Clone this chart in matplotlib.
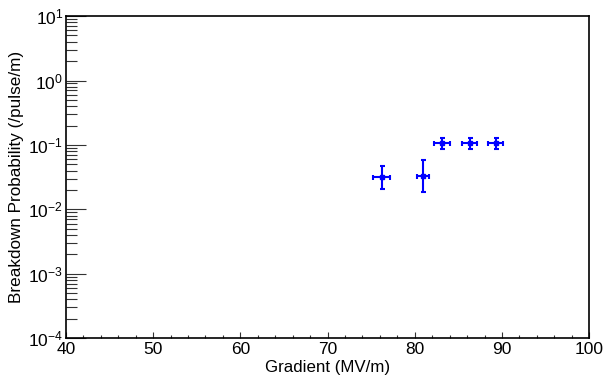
import numpy as np
import matplotlib.pyplot as plt
from matplotlib.ticker import LogLocator, MultipleLocator, FixedLocator, NullFormatter

plt.rcParams['font.family'] = ['Liberation Sans', 'DejaVu Sans']
plt.rcParams['mathtext.fontset'] = 'custom'
plt.rcParams['mathtext.rm'] = 'Liberation Sans'
plt.rcParams['mathtext.it'] = 'Liberation Sans'

# data
gradient = [76.2, 80.95, 83.1, 86.3, 89.25]
gradient_err = [1.0, 0.7, 0.9, 0.85, 0.9]
bdr = [0.0313, 0.0328, 0.107, 0.107, 0.107]
bdr_lo = [0.0206, 0.0183, 0.088, 0.088, 0.088]
bdr_hi = [0.0474, 0.0587, 0.129, 0.129, 0.129]

x_ticks = [40, 50, 60, 70, 80, 90, 100]
y_ticks = [1e-4, 1e-3, 1e-2, 1e-1, 1e0, 1e1]
y_labels = [r'$10^{-4}$', r'$10^{-3}$', r'$10^{-2}$', r'$10^{-1}$', r'$10^{0}$', r'$10^{1}$']

bdr = np.array(bdr)
yerr = [bdr - np.array(bdr_lo), np.array(bdr_hi) - bdr]

fig = plt.figure(figsize=(6.05, 3.83), dpi=100)
ax = fig.add_axes([0.109, 0.117, 0.865, 0.841])

ax.errorbar(gradient, bdr, xerr=gradient_err, yerr=yerr, fmt='s', color='#0000ff',
            markersize=3.5, elinewidth=1.5, capsize=1.8, capthick=1.5)

ax.set_yscale('log')
ax.set_xlim(40, 100)
ax.set_ylim(1e-4, 1e1)

ax.xaxis.set_major_locator(FixedLocator(x_ticks))
ax.set_xticklabels([str(t) for t in x_ticks])
ax.xaxis.set_minor_locator(MultipleLocator(2))
ax.yaxis.set_major_locator(FixedLocator(y_ticks))
ax.set_yticklabels(y_labels)
ax.yaxis.set_minor_locator(LogLocator(base=10, subs=np.arange(2, 10), numticks=20))
ax.yaxis.set_minor_formatter(NullFormatter())

ax.tick_params(axis='both', which='both', direction='in', top=False, right=False,
               labelsize=12.5, width=0.8, color='#333333')
ax.tick_params(axis='y', which='major', length=14.5, pad=2)
ax.tick_params(axis='y', which='minor', length=8)
ax.tick_params(axis='x', which='major', length=4, pad=3)
ax.tick_params(axis='x', which='minor', length=2)

for s in ax.spines.values():
    s.set_linewidth(1.2)

ax.set_xlabel('Gradient (MV/m)', fontsize=12.2, labelpad=2)
ax.set_ylabel('Breakdown Probability (/pulse/m)', fontsize=12.3, labelpad=3)

fig.savefig('out.png', dpi=100)
